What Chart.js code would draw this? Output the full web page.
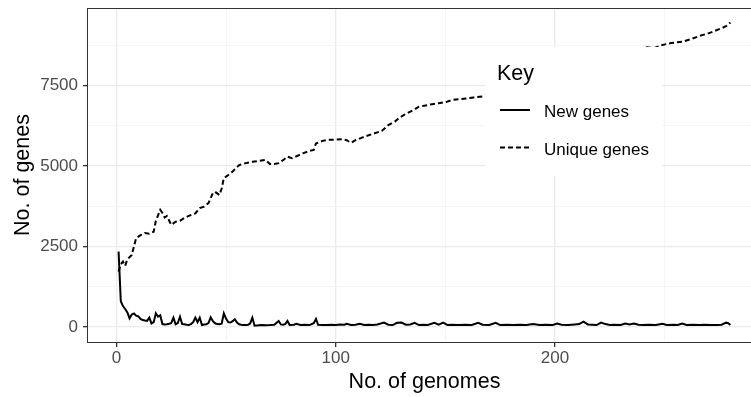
<!DOCTYPE html>
<html>
<head>
<meta charset="utf-8">
<script src="https://cdn.jsdelivr.net/npm/chart.js@4.4.0/dist/chart.umd.min.js"></script>
<style>
	body { margin: 0; background: #fff; overflow: hidden; }
</style>
</head>
<body>
<canvas id="mycanvas" width="770" height="397"></canvas>
<script>
// new genes per added genome (solid line)
var newGenomes = [
	1,2,3,4,5,6,7,8,9,10,
	11,12,13,14,15,16,17,18,19,20,
	21,22,23,24,25,26,27,28,29,30,
	31,32,33,34,35,36,37,38,39,40,
	41,42,43,44,45,46,47,48,49,50,
	51,52,53,54,55,56,57,58,59,60,
	61,62,63,64,66,68,70,72,74,75,
	76,77,78,79,81,82,84,86,88,90,
	91,92,94,96,98,100,102,104,105,107,
	109,111,113,115,117,119,122,124,126,128,
	130,132,134,136,138,140,142,145,147,149,
	151,153,156,159,162,165,167,170,173,175,
	178,181,184,187,190,193,196,199,201,203,
	206,209,211,213,215,217,219,221,223,225,
	227,230,232,234,236,238,240,243,246,249,
	251,254,256,258,260,263,266,268,271,274,
	276,278,279,280
];
var newGenes = [
	2340,800,650,560,450,270,390,420,350,330,
	250,215,200,190,290,110,150,425,320,360,
	90,80,85,100,120,290,85,120,320,90,
	85,70,60,90,150,290,150,290,60,80,
	85,120,300,180,115,90,85,100,425,260,
	150,140,180,240,140,84,70,60,60,70,
	110,290,40,50,60,55,60,70,186,80,
	70,90,186,60,70,100,60,70,60,120,
	250,70,60,60,70,60,80,70,100,60,
	70,100,60,70,60,80,135,70,60,130,
	140,70,80,130,60,70,60,130,70,135,
	60,70,60,70,60,130,70,60,130,60,
	70,60,70,60,90,60,70,60,110,70,
	60,80,90,165,80,70,60,135,90,60,
	70,60,110,80,110,70,60,70,60,100,
	60,70,60,110,60,70,60,70,60,60,
	70,135,120,60
];

// cumulative unique genes (dashed line)
var uniqueGenomes = [
	1,2,3,4,5,7,9,11,13,15,
	17,18,20,21,22,23,25,27,29,31,
	33,36,38,40,42,44,45,47,48,49,
	51,53,56,59,62,65,68,70,72,74,
	76,78,80,82,85,88,90,91,94,96,
	100,103,105,107,109,112,114,117,121,124,
	127,129,132,135,138,141,144,147,150,153,
	156,160,163,167,172,178,185,192,200,208,
	215,222,230,236,242,245,249,253,258,262,
	266,270,273,276,278,280
];
var uniqueGenes = [
	1720,1950,2030,1900,2100,2240,2760,2850,2920,2900,
	2960,3300,3640,3540,3400,3450,3170,3270,3300,3390,
	3450,3530,3690,3740,3850,4160,4200,4100,4300,4620,
	4720,4830,5030,5090,5130,5160,5190,5060,5060,5090,
	5180,5290,5240,5300,5390,5470,5500,5700,5780,5810,
	5820,5830,5800,5720,5800,5880,5930,6000,6090,6270,
	6380,6500,6620,6720,6840,6880,6920,6950,6980,7050,
	7070,7100,7130,7160,7280,7420,7600,7720,7900,8050,
	8180,8320,8450,8560,8690,8660,8760,8820,8860,8940,
	9040,9120,9200,9280,9340,9460
];

// labelled ticks and the minor grid positions between them
var xTicks = [0, 100, 200];
var xGrid = [0, 50, 100, 150, 200, 250];
var yTicks = [0, 2500, 5000, 7500];
var yGrid = [0, 1250, 2500, 3750, 5000, 6250, 7500, 8750];

function toPoints(xs, ys) {
	var pts = [];
	for (var i in xs) {
		pts.push({x: xs[i], y: ys[i]});
	}
	return pts;
}

function isMajor(c) {
	if (!c.tick) return false;
	var list = c.scale.axis === 'x' ? xTicks : yTicks;
	return list.indexOf(c.tick.value) >= 0;
}

Chart.defaults.font.family = "'Liberation Sans', Arial, sans-serif";

// white legend box drawn inside the panel, over the lines
var keyBox = {
	id: 'keyBox',
	afterDatasetsDraw: function(chart) {
		var ctx = chart.ctx;
		ctx.save();
		ctx.fillStyle = '#ffffff';
		ctx.fillRect(485, 47, 177, 129);
		ctx.fillStyle = '#000';
		ctx.font = "21.5px 'Liberation Sans', Arial, sans-serif";
		ctx.textBaseline = 'alphabetic';
		ctx.fillText('Key', 497, 80);
		var rows = [110, 147.5];
		chart.data.datasets.forEach(function(ds, i) {
			ctx.strokeStyle = '#000';
			ctx.lineWidth = ds.borderWidth;
			ctx.setLineDash(ds.borderDash || []);
			ctx.beginPath();
			ctx.moveTo(500, rows[i]);
			ctx.lineTo(530, rows[i]);
			ctx.stroke();
			ctx.setLineDash([]);
			ctx.font = "17px 'Liberation Sans', Arial, sans-serif";
			ctx.fillStyle = '#000';
			ctx.fillText(ds.label, 544, rows[i] + 7);
		});
		ctx.restore();
	}
};

// panel border like theme_bw
var panelBorder = {
	id: 'panelBorder',
	afterDraw: function(chart) {
		var a = chart.chartArea;
		var ctx = chart.ctx;
		ctx.save();
		ctx.strokeStyle = '#333333';
		ctx.lineWidth = 1;
		ctx.strokeRect(Math.round(a.left) - 0.5, Math.round(a.top) + 0.5, a.right - a.left, a.bottom - a.top);
		ctx.restore();
	}
};

var chartdata = {
	datasets: [
		{
			label: 'New genes',
			data: toPoints(newGenomes, newGenes),
			borderColor: '#000',
			borderWidth: 2,
			pointRadius: 0,
			tension: 0,
			fill: false
		},
		{
			label: 'Unique genes',
			data: toPoints(uniqueGenomes, uniqueGenes),
			borderColor: '#000',
			borderWidth: 2,
			borderDash: [5, 3],
			pointRadius: 0,
			tension: 0,
			fill: false
		}
	]
};

var ctx = document.getElementById('mycanvas');

var lineGraph = new Chart(ctx, {
	type: 'line',
	data: chartdata,
	plugins: [keyBox, panelBorder],
	options: {
		responsive: false,
		animation: false,
		layout: { padding: { top: 8, right: 9, bottom: 0, left: 0 } },
		plugins: {
			legend: { display: false },
			tooltip: { enabled: false }
		},
		scales: {
			x: {
				type: 'linear',
				bounds: 'data',
				min: -12.95,
				max: 293.95,
				afterFit: function(scale) {
					scale.height = 55;
					scale.paddingLeft = 0;
					scale.paddingRight = 0;
				},
				afterBuildTicks: function(scale) {
					scale.ticks = xGrid.map(function(v) { return {value: v}; });
				},
				ticks: {
					maxRotation: 0,
					autoSkip: false,
					padding: 1,
					color: '#4d4d4d',
					font: { size: 17 },
					callback: function(v) { return xTicks.indexOf(v) >= 0 ? String(v) : ''; }
				},
				grid: {
					color: function(c) { return isMajor(c) ? '#ebebeb' : '#f2f2f2'; },
					lineWidth: function(c) { return isMajor(c) ? 1.3 : 0.8; },
					tickLength: 5,
					tickColor: function(c) { return isMajor(c) ? '#333333' : 'rgba(0,0,0,0)'; }
				},
				border: { display: false },
				title: {
					display: true,
					text: 'No. of genomes',
					color: '#000',
					font: { size: 21.5 },
					padding: { top: 0, bottom: 2 }
				}
			},
			y: {
				type: 'linear',
				bounds: 'data',
				min: -466,
				max: 9907,
				afterFit: function(scale) {
					scale.width = 88;
					scale.paddingTop = 0;
					scale.paddingBottom = 0;
				},
				afterBuildTicks: function(scale) {
					scale.ticks = yGrid.map(function(v) { return {value: v}; });
				},
				ticks: {
					autoSkip: false,
					padding: 5,
					color: '#4d4d4d',
					font: { size: 17 },
					callback: function(v) { return yTicks.indexOf(v) >= 0 ? String(v) : ''; }
				},
				grid: {
					color: function(c) { return isMajor(c) ? '#ebebeb' : '#f2f2f2'; },
					lineWidth: function(c) { return isMajor(c) ? 1.3 : 0.8; },
					tickLength: 5,
					tickColor: function(c) { return isMajor(c) ? '#333333' : 'rgba(0,0,0,0)'; }
				},
				border: { display: false },
				title: {
					display: true,
					text: 'No. of genes',
					color: '#000',
					font: { size: 21.5 },
					padding: { top: 10, bottom: 0 }
				}
			}
		}
	}
});
</script>
</body>
</html>
